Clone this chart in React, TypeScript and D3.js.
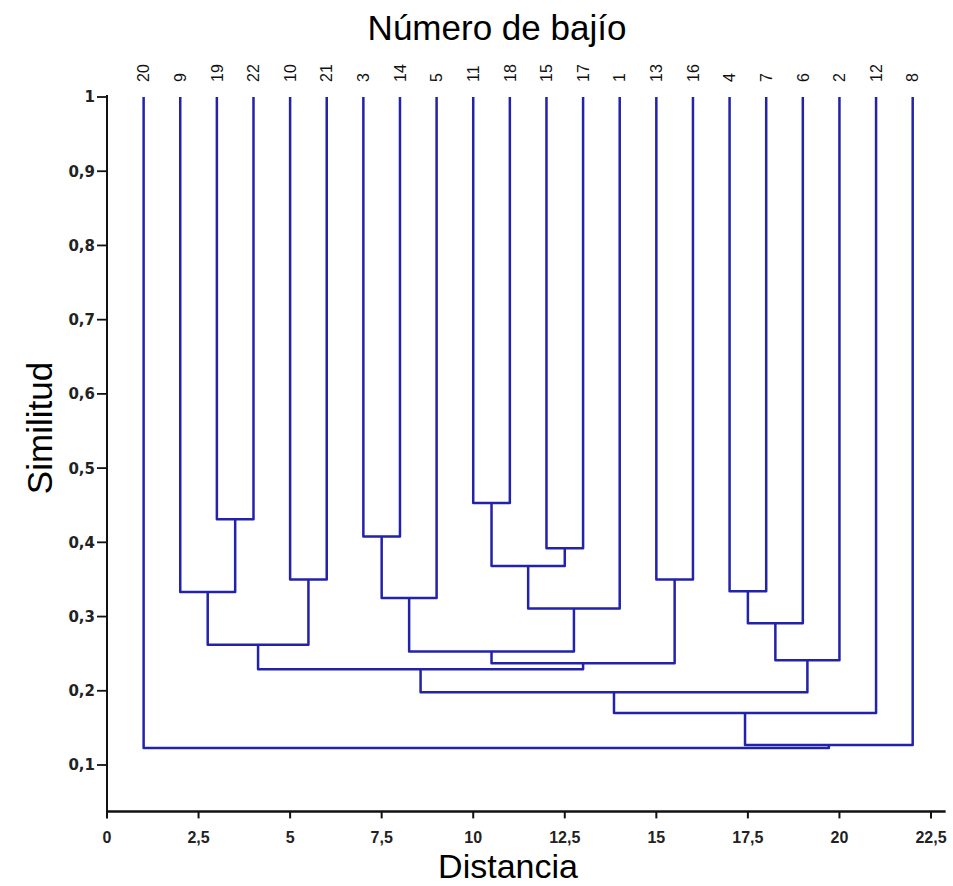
import React from "react";
import { scaleLinear } from "d3";

const width = 953;
const height = 886;

// leaf order along the distance axis (left to right)
const leafOrder = [20, 9, 19, 22, 10, 21, 3, 14, 5, 11, 18, 15, 17, 1, 13, 16, 4, 7, 6, 2, 12, 8];

// merges: [left child, right child, similarity]; children are leaf numbers or "m<index>"
const merges: [string, string, number][] = [
  ["19", "22", 0.431],
  ["9", "m0", 0.333],
  ["10", "21", 0.35],
  ["m1", "m2", 0.262],
  ["3", "14", 0.408],
  ["m4", "5", 0.325],
  ["11", "18", 0.453],
  ["15", "17", 0.392],
  ["m6", "m7", 0.368],
  ["m8", "1", 0.311],
  ["m5", "m9", 0.253],
  ["13", "16", 0.35],
  ["m10", "m11", 0.237],
  ["m3", "m12", 0.229],
  ["4", "7", 0.334],
  ["m14", "6", 0.291],
  ["m15", "2", 0.241],
  ["m13", "m16", 0.198],
  ["m17", "12", 0.17],
  ["m18", "8", 0.127],
  ["20", "m19", 0.123],
];

const xTicks = [0, 2.5, 5, 7.5, 10, 12.5, 15, 17.5, 20, 22.5];
const yTicks = [0.1, 0.2, 0.3, 0.4, 0.5, 0.6, 0.7, 0.8, 0.9, 1];

const lineColor = "#2222aa";

export default function App() {
  const x = scaleLinear().domain([0, 22.5]).range([107, 931]);
  const y = scaleLinear().domain([0.1, 1]).range([765, 97]);

  const axisBottomY = y(0.0375);
  const axisRightX = x(22.9);

  // position of every node: distance coordinate and similarity
  const nodes: Record<string, { d: number; s: number }> = {};
  leafOrder.forEach((leaf, i) => {
    nodes[String(leaf)] = { d: i + 1, s: 1 };
  });
  const paths = merges.map(([a, b, s], i) => {
    const na = nodes[a];
    const nb = nodes[b];
    nodes["m" + i] = { d: (na.d + nb.d) / 2, s };
    return (
      "M" + x(na.d) + "," + y(na.s) +
      "V" + y(s) +
      "H" + x(nb.d) +
      "V" + y(nb.s)
    );
  });

  const fmt = (v: number) => String(v).replace(".", ",");

  return (
    <svg width={width} height={height} style={{ position: "absolute", left: 0, top: 0, background: "#fff" }}
      fontFamily="'Liberation Sans', Arial, sans-serif">
      <text x={497} y={40} textAnchor="middle" fontSize={35}>Número de bajío</text>

      {leafOrder.map((leaf, i) => (
        <text key={leaf} transform={"translate(" + x(i + 1) + "," + 82 + ") rotate(-90)"}
          dy="0.36em" fontSize={16} fill="#111">{leaf}</text>
      ))}

      <g fill="none" stroke={lineColor} strokeWidth={2.5} strokeLinejoin="round">
        {paths.map((p, i) => <path key={i} d={p} />)}
      </g>

      {/* y axis */}
      <line x1={x(0)} x2={x(0)} y1={y(1) - 2} y2={axisBottomY} stroke="#111" strokeWidth={2} />
      {yTicks.map(t => (
        <g key={t}>
          <line x1={x(0) - 10} x2={x(0)} y1={y(t)} y2={y(t)} stroke="#111" strokeWidth={1.8} />
          <text x={x(0) - 12} y={y(t)} dy="0.36em" textAnchor="end" fontSize={15}
            fontWeight="bold" fontFamily="'DejaVu Sans', Verdana, sans-serif" fill="#222">{fmt(t)}</text>
        </g>
      ))}
      <text transform={"translate(52," + 428 + ") rotate(-90)"} textAnchor="middle" fontSize={35}>Similitud</text>

      {/* x axis */}
      <line x1={x(0) - 1} x2={axisRightX} y1={axisBottomY} y2={axisBottomY} stroke="#111" strokeWidth={2.5} />
      {xTicks.map(t => (
        <g key={t}>
          <line x1={x(t)} x2={x(t)} y1={axisBottomY} y2={axisBottomY + 7} stroke="#111" strokeWidth={2} />
          <text x={x(t)} y={843} textAnchor="middle" fontSize={16} fontWeight="bold" fill="#222">{fmt(t)}</text>
        </g>
      ))}
      <text x={508} y={878} textAnchor="middle" fontSize={34}>Distancia</text>
    </svg>
  );
}
